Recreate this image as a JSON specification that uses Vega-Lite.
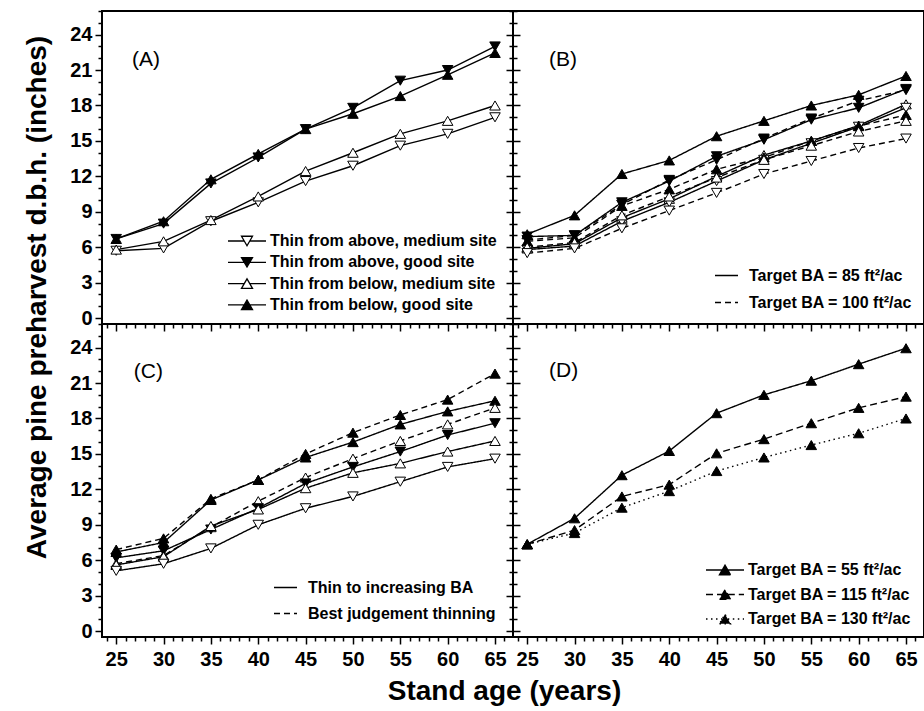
{
  "$schema": "https://vega.github.io/schema/vega-lite/v6.json",
  "background": "white",
  "padding": {"left": 21, "top": 9, "right": 0, "bottom": 0},
  "datasets": {
    "A": [
      {"age":25,"dbh":5.7,"series":"Thin from above, medium site"},{"age":30,"dbh":5.9,"series":"Thin from above, medium site"},{"age":35,"dbh":8.2,"series":"Thin from above, medium site"},{"age":40,"dbh":9.8,"series":"Thin from above, medium site"},{"age":45,"dbh":11.6,"series":"Thin from above, medium site"},{"age":50,"dbh":12.9,"series":"Thin from above, medium site"},{"age":55,"dbh":14.6,"series":"Thin from above, medium site"},{"age":60,"dbh":15.6,"series":"Thin from above, medium site"},{"age":65,"dbh":17.0,"series":"Thin from above, medium site"},
      {"age":25,"dbh":6.7,"series":"Thin from above, good site"},{"age":30,"dbh":8.0,"series":"Thin from above, good site"},{"age":35,"dbh":11.4,"series":"Thin from above, good site"},{"age":40,"dbh":13.6,"series":"Thin from above, good site"},{"age":45,"dbh":16.0,"series":"Thin from above, good site"},{"age":50,"dbh":17.8,"series":"Thin from above, good site"},{"age":55,"dbh":20.1,"series":"Thin from above, good site"},{"age":60,"dbh":21.0,"series":"Thin from above, good site"},{"age":65,"dbh":23.0,"series":"Thin from above, good site"},
      {"age":25,"dbh":5.8,"series":"Thin from below, medium site"},{"age":30,"dbh":6.5,"series":"Thin from below, medium site"},{"age":35,"dbh":8.3,"series":"Thin from below, medium site"},{"age":40,"dbh":10.3,"series":"Thin from below, medium site"},{"age":45,"dbh":12.45,"series":"Thin from below, medium site"},{"age":50,"dbh":14.0,"series":"Thin from below, medium site"},{"age":55,"dbh":15.6,"series":"Thin from below, medium site"},{"age":60,"dbh":16.7,"series":"Thin from below, medium site"},{"age":65,"dbh":18.0,"series":"Thin from below, medium site"},
      {"age":25,"dbh":6.7,"series":"Thin from below, good site"},{"age":30,"dbh":8.2,"series":"Thin from below, good site"},{"age":35,"dbh":11.75,"series":"Thin from below, good site"},{"age":40,"dbh":13.9,"series":"Thin from below, good site"},{"age":45,"dbh":16.0,"series":"Thin from below, good site"},{"age":50,"dbh":17.3,"series":"Thin from below, good site"},{"age":55,"dbh":18.8,"series":"Thin from below, good site"},{"age":60,"dbh":20.6,"series":"Thin from below, good site"},{"age":65,"dbh":22.45,"series":"Thin from below, good site"}
    ],
    "B": [
      {"age":25,"dbh":7.1,"marker":"up-filled","group":"Target BA = 85 ft²/ac"},{"age":30,"dbh":8.7,"marker":"up-filled","group":"Target BA = 85 ft²/ac"},{"age":35,"dbh":12.2,"marker":"up-filled","group":"Target BA = 85 ft²/ac"},{"age":40,"dbh":13.35,"marker":"up-filled","group":"Target BA = 85 ft²/ac"},{"age":45,"dbh":15.4,"marker":"up-filled","group":"Target BA = 85 ft²/ac"},{"age":50,"dbh":16.7,"marker":"up-filled","group":"Target BA = 85 ft²/ac"},{"age":55,"dbh":18.0,"marker":"up-filled","group":"Target BA = 85 ft²/ac"},{"age":60,"dbh":18.9,"marker":"up-filled","group":"Target BA = 85 ft²/ac"},{"age":65,"dbh":20.5,"marker":"up-filled","group":"Target BA = 85 ft²/ac"},
      {"age":25,"dbh":6.9,"marker":"down-filled","group":"Target BA = 85 ft²/ac"},{"age":30,"dbh":7.0,"marker":"down-filled","group":"Target BA = 85 ft²/ac"},{"age":35,"dbh":9.8,"marker":"down-filled","group":"Target BA = 85 ft²/ac"},{"age":40,"dbh":11.6,"marker":"down-filled","group":"Target BA = 85 ft²/ac"},{"age":45,"dbh":13.7,"marker":"down-filled","group":"Target BA = 85 ft²/ac"},{"age":50,"dbh":15.1,"marker":"down-filled","group":"Target BA = 85 ft²/ac"},{"age":55,"dbh":16.8,"marker":"down-filled","group":"Target BA = 85 ft²/ac"},{"age":60,"dbh":17.8,"marker":"down-filled","group":"Target BA = 85 ft²/ac"},{"age":65,"dbh":19.4,"marker":"down-filled","group":"Target BA = 85 ft²/ac"},
      {"age":25,"dbh":5.9,"marker":"up-open","group":"Target BA = 85 ft²/ac"},{"age":30,"dbh":6.3,"marker":"up-open","group":"Target BA = 85 ft²/ac"},{"age":35,"dbh":8.5,"marker":"up-open","group":"Target BA = 85 ft²/ac"},{"age":40,"dbh":10.1,"marker":"up-open","group":"Target BA = 85 ft²/ac"},{"age":45,"dbh":12.0,"marker":"up-open","group":"Target BA = 85 ft²/ac"},{"age":50,"dbh":13.8,"marker":"up-open","group":"Target BA = 85 ft²/ac"},{"age":55,"dbh":15.0,"marker":"up-open","group":"Target BA = 85 ft²/ac"},{"age":60,"dbh":16.3,"marker":"up-open","group":"Target BA = 85 ft²/ac"},{"age":65,"dbh":18.1,"marker":"up-open","group":"Target BA = 85 ft²/ac"},
      {"age":25,"dbh":5.8,"marker":"down-open","group":"Target BA = 85 ft²/ac"},{"age":30,"dbh":6.1,"marker":"down-open","group":"Target BA = 85 ft²/ac"},{"age":35,"dbh":8.2,"marker":"down-open","group":"Target BA = 85 ft²/ac"},{"age":40,"dbh":9.8,"marker":"down-open","group":"Target BA = 85 ft²/ac"},{"age":45,"dbh":11.6,"marker":"down-open","group":"Target BA = 85 ft²/ac"},{"age":50,"dbh":13.4,"marker":"down-open","group":"Target BA = 85 ft²/ac"},{"age":55,"dbh":14.8,"marker":"down-open","group":"Target BA = 85 ft²/ac"},{"age":60,"dbh":16.2,"marker":"down-open","group":"Target BA = 85 ft²/ac"},{"age":65,"dbh":17.8,"marker":"down-open","group":"Target BA = 85 ft²/ac"},
      {"age":25,"dbh":6.6,"marker":"down-filled","group":"Target BA = 100 ft²/ac"},{"age":30,"dbh":7.0,"marker":"down-filled","group":"Target BA = 100 ft²/ac"},{"age":35,"dbh":9.6,"marker":"down-filled","group":"Target BA = 100 ft²/ac"},{"age":40,"dbh":11.7,"marker":"down-filled","group":"Target BA = 100 ft²/ac"},{"age":45,"dbh":13.4,"marker":"down-filled","group":"Target BA = 100 ft²/ac"},{"age":50,"dbh":15.2,"marker":"down-filled","group":"Target BA = 100 ft²/ac"},{"age":55,"dbh":16.9,"marker":"down-filled","group":"Target BA = 100 ft²/ac"},{"age":60,"dbh":18.4,"marker":"down-filled","group":"Target BA = 100 ft²/ac"},{"age":65,"dbh":19.3,"marker":"down-filled","group":"Target BA = 100 ft²/ac"},
      {"age":25,"dbh":6.5,"marker":"up-filled","group":"Target BA = 100 ft²/ac"},{"age":30,"dbh":6.8,"marker":"up-filled","group":"Target BA = 100 ft²/ac"},{"age":35,"dbh":9.5,"marker":"up-filled","group":"Target BA = 100 ft²/ac"},{"age":40,"dbh":10.9,"marker":"up-filled","group":"Target BA = 100 ft²/ac"},{"age":45,"dbh":12.6,"marker":"up-filled","group":"Target BA = 100 ft²/ac"},{"age":50,"dbh":13.6,"marker":"up-filled","group":"Target BA = 100 ft²/ac"},{"age":55,"dbh":15.0,"marker":"up-filled","group":"Target BA = 100 ft²/ac"},{"age":60,"dbh":16.25,"marker":"up-filled","group":"Target BA = 100 ft²/ac"},{"age":65,"dbh":17.2,"marker":"up-filled","group":"Target BA = 100 ft²/ac"},
      {"age":25,"dbh":6.0,"marker":"up-open","group":"Target BA = 100 ft²/ac"},{"age":30,"dbh":6.4,"marker":"up-open","group":"Target BA = 100 ft²/ac"},{"age":35,"dbh":8.7,"marker":"up-open","group":"Target BA = 100 ft²/ac"},{"age":40,"dbh":10.3,"marker":"up-open","group":"Target BA = 100 ft²/ac"},{"age":45,"dbh":11.9,"marker":"up-open","group":"Target BA = 100 ft²/ac"},{"age":50,"dbh":13.4,"marker":"up-open","group":"Target BA = 100 ft²/ac"},{"age":55,"dbh":14.6,"marker":"up-open","group":"Target BA = 100 ft²/ac"},{"age":60,"dbh":15.8,"marker":"up-open","group":"Target BA = 100 ft²/ac"},{"age":65,"dbh":16.7,"marker":"up-open","group":"Target BA = 100 ft²/ac"},
      {"age":25,"dbh":5.5,"marker":"down-open","group":"Target BA = 100 ft²/ac"},{"age":30,"dbh":5.9,"marker":"down-open","group":"Target BA = 100 ft²/ac"},{"age":35,"dbh":7.6,"marker":"down-open","group":"Target BA = 100 ft²/ac"},{"age":40,"dbh":9.1,"marker":"down-open","group":"Target BA = 100 ft²/ac"},{"age":45,"dbh":10.6,"marker":"down-open","group":"Target BA = 100 ft²/ac"},{"age":50,"dbh":12.2,"marker":"down-open","group":"Target BA = 100 ft²/ac"},{"age":55,"dbh":13.3,"marker":"down-open","group":"Target BA = 100 ft²/ac"},{"age":60,"dbh":14.4,"marker":"down-open","group":"Target BA = 100 ft²/ac"},{"age":65,"dbh":15.2,"marker":"down-open","group":"Target BA = 100 ft²/ac"}
    ],
    "C": [
      {"age":25,"dbh":6.9,"marker":"up-filled","group":"Best judgement thinning"},{"age":30,"dbh":7.85,"marker":"up-filled","group":"Best judgement thinning"},{"age":35,"dbh":11.2,"marker":"up-filled","group":"Best judgement thinning"},{"age":40,"dbh":12.8,"marker":"up-filled","group":"Best judgement thinning"},{"age":45,"dbh":15.0,"marker":"up-filled","group":"Best judgement thinning"},{"age":50,"dbh":16.8,"marker":"up-filled","group":"Best judgement thinning"},{"age":55,"dbh":18.3,"marker":"up-filled","group":"Best judgement thinning"},{"age":60,"dbh":19.6,"marker":"up-filled","group":"Best judgement thinning"},{"age":65,"dbh":21.8,"marker":"up-filled","group":"Best judgement thinning"},
      {"age":25,"dbh":6.7,"marker":"up-filled","group":"Thin to increasing BA"},{"age":30,"dbh":7.5,"marker":"up-filled","group":"Thin to increasing BA"},{"age":35,"dbh":11.1,"marker":"up-filled","group":"Thin to increasing BA"},{"age":40,"dbh":12.8,"marker":"up-filled","group":"Thin to increasing BA"},{"age":45,"dbh":14.7,"marker":"up-filled","group":"Thin to increasing BA"},{"age":50,"dbh":16.0,"marker":"up-filled","group":"Thin to increasing BA"},{"age":55,"dbh":17.5,"marker":"up-filled","group":"Thin to increasing BA"},{"age":60,"dbh":18.6,"marker":"up-filled","group":"Thin to increasing BA"},{"age":65,"dbh":19.5,"marker":"up-filled","group":"Thin to increasing BA"},
      {"age":25,"dbh":5.7,"marker":"up-open","group":"Best judgement thinning"},{"age":30,"dbh":6.4,"marker":"up-open","group":"Best judgement thinning"},{"age":35,"dbh":8.8,"marker":"up-open","group":"Best judgement thinning"},{"age":40,"dbh":11.0,"marker":"up-open","group":"Best judgement thinning"},{"age":45,"dbh":13.0,"marker":"up-open","group":"Best judgement thinning"},{"age":50,"dbh":14.6,"marker":"up-open","group":"Best judgement thinning"},{"age":55,"dbh":16.1,"marker":"up-open","group":"Best judgement thinning"},{"age":60,"dbh":17.5,"marker":"up-open","group":"Best judgement thinning"},{"age":65,"dbh":18.9,"marker":"up-open","group":"Best judgement thinning"},
      {"age":25,"dbh":6.2,"marker":"down-filled","group":"Thin to increasing BA"},{"age":30,"dbh":6.8,"marker":"down-filled","group":"Thin to increasing BA"},{"age":35,"dbh":8.6,"marker":"down-filled","group":"Thin to increasing BA"},{"age":40,"dbh":10.4,"marker":"down-filled","group":"Thin to increasing BA"},{"age":45,"dbh":12.5,"marker":"down-filled","group":"Thin to increasing BA"},{"age":50,"dbh":13.9,"marker":"down-filled","group":"Thin to increasing BA"},{"age":55,"dbh":15.2,"marker":"down-filled","group":"Thin to increasing BA"},{"age":60,"dbh":16.6,"marker":"down-filled","group":"Thin to increasing BA"},{"age":65,"dbh":17.6,"marker":"down-filled","group":"Thin to increasing BA"},
      {"age":25,"dbh":5.6,"marker":"up-open","group":"Thin to increasing BA"},{"age":30,"dbh":6.3,"marker":"up-open","group":"Thin to increasing BA"},{"age":35,"dbh":8.9,"marker":"up-open","group":"Thin to increasing BA"},{"age":40,"dbh":10.3,"marker":"up-open","group":"Thin to increasing BA"},{"age":45,"dbh":12.1,"marker":"up-open","group":"Thin to increasing BA"},{"age":50,"dbh":13.4,"marker":"up-open","group":"Thin to increasing BA"},{"age":55,"dbh":14.2,"marker":"up-open","group":"Thin to increasing BA"},{"age":60,"dbh":15.2,"marker":"up-open","group":"Thin to increasing BA"},{"age":65,"dbh":16.1,"marker":"up-open","group":"Thin to increasing BA"},
      {"age":25,"dbh":5.1,"marker":"down-open","group":"Thin to increasing BA"},{"age":30,"dbh":5.7,"marker":"down-open","group":"Thin to increasing BA"},{"age":35,"dbh":7.0,"marker":"down-open","group":"Thin to increasing BA"},{"age":40,"dbh":9.0,"marker":"down-open","group":"Thin to increasing BA"},{"age":45,"dbh":10.4,"marker":"down-open","group":"Thin to increasing BA"},{"age":50,"dbh":11.4,"marker":"down-open","group":"Thin to increasing BA"},{"age":55,"dbh":12.65,"marker":"down-open","group":"Thin to increasing BA"},{"age":60,"dbh":13.9,"marker":"down-open","group":"Thin to increasing BA"},{"age":65,"dbh":14.6,"marker":"down-open","group":"Thin to increasing BA"}
    ],
    "D": [
      {"age":25,"dbh":7.35,"group":"Target BA = 55 ft²/ac"},{"age":30,"dbh":9.55,"group":"Target BA = 55 ft²/ac"},{"age":35,"dbh":13.2,"group":"Target BA = 55 ft²/ac"},{"age":40,"dbh":15.25,"group":"Target BA = 55 ft²/ac"},{"age":45,"dbh":18.45,"group":"Target BA = 55 ft²/ac"},{"age":50,"dbh":20.0,"group":"Target BA = 55 ft²/ac"},{"age":55,"dbh":21.2,"group":"Target BA = 55 ft²/ac"},{"age":60,"dbh":22.6,"group":"Target BA = 55 ft²/ac"},{"age":65,"dbh":23.95,"group":"Target BA = 55 ft²/ac"},
      {"age":25,"dbh":7.35,"group":"Target BA = 115 ft²/ac"},{"age":30,"dbh":8.55,"group":"Target BA = 115 ft²/ac"},{"age":35,"dbh":11.4,"group":"Target BA = 115 ft²/ac"},{"age":40,"dbh":12.4,"group":"Target BA = 115 ft²/ac"},{"age":45,"dbh":15.05,"group":"Target BA = 115 ft²/ac"},{"age":50,"dbh":16.25,"group":"Target BA = 115 ft²/ac"},{"age":55,"dbh":17.6,"group":"Target BA = 115 ft²/ac"},{"age":60,"dbh":18.9,"group":"Target BA = 115 ft²/ac"},{"age":65,"dbh":19.85,"group":"Target BA = 115 ft²/ac"},
      {"age":25,"dbh":7.35,"group":"Target BA = 130 ft²/ac"},{"age":30,"dbh":8.3,"group":"Target BA = 130 ft²/ac"},{"age":35,"dbh":10.45,"group":"Target BA = 130 ft²/ac"},{"age":40,"dbh":11.85,"group":"Target BA = 130 ft²/ac"},{"age":45,"dbh":13.55,"group":"Target BA = 130 ft²/ac"},{"age":50,"dbh":14.7,"group":"Target BA = 130 ft²/ac"},{"age":55,"dbh":15.75,"group":"Target BA = 130 ft²/ac"},{"age":60,"dbh":16.75,"group":"Target BA = 130 ft²/ac"},{"age":65,"dbh":18.0,"group":"Target BA = 130 ft²/ac"}
    ]
  },
  "columns": 2,
  "spacing": 0,
  "bounds": "flush",
  "resolve": {
    "scale": {"shape": "independent", "fill": "independent", "stroke": "independent", "strokeDash": "independent", "x": "independent", "y": "independent"},
    "legend": {"shape": "independent", "fill": "independent", "stroke": "independent", "strokeDash": "independent"}
  },
  "concat": [
    {
      "width": 411, "height": 313,
      "data": {"name": "A"},
      "resolve": {"axis": {"x": "independent", "y": "independent"}, "scale": {"shape": "independent", "fill": "independent", "stroke": "independent"}},
      "layer": [
        {
          "mark": {"type": "line", "color": "black", "strokeWidth": 1.4},
          "encoding": {
            "x": {"field": "age", "type": "quantitative", "scale": {"domain": [23.5, 66.9], "nice": false, "zero": false},
              "axis": {"orient": "bottom", "values": [24,25,26,27,28,29,30,31,32,33,34,35,36,37,38,39,40,41,42,43,44,45,46,47,48,49,50,51,52,53,54,55,56,57,58,59,60,61,62,63,64,65,66], "labels": false, "tickSize": {"condition": {"test": "datum.value % 5 === 0", "value": 7}, "value": 4}, "title": null}},
            "y": {"field": "dbh", "type": "quantitative", "scale": {"domain": [-0.5, 26], "nice": false, "zero": false},
              "axis": {"orient": "left", "values": [0,1,2,3,4,5,6,7,8,9,10,11,12,13,14,15,16,17,18,19,20,21,22,23,24,25,26], "labelExpr": "datum.value % 3 === 0 ? datum.label : ''", "tickSize": {"condition": {"test": "datum.value % 3 === 0", "value": 7}, "value": 4}, "labelPadding": 3,
                "title": "Average pine preharvest d.b.h. (inches)", "titleX": -65, "titleY": 286, "titleBaseline": "middle", "titleAlign": "center", "titleAngle": 270}},
            "detail": {"field": "series", "type": "nominal"}
          }
        },
        {
          "transform": [{"filter": "false"}],
          "mark": {"type": "point", "filled": true, "size": 400, "strokeWidth": 1.3, "opacity": 1},
          "encoding": {
            "x": {"field": "age", "type": "quantitative", "axis": null},
            "y": {"field": "dbh", "type": "quantitative", "axis": null},
            "shape": {"field": "series", "type": "nominal",
              "scale": {"domain": ["Thin from above, medium site", "Thin from above, good site", "Thin from below, medium site", "Thin from below, good site"], "range": ["M-1.9,0L-0.28,0M0.28,0L1.9,0M-0.55,-0.475L0.55,-0.475L0,0.475Z", "M-1.9,0L-0.28,0M0.28,0L1.9,0M-0.55,-0.475L0.55,-0.475L0,0.475Z", "M-1.9,0L-0.28,0M0.28,0L1.9,0M-0.55,0.475L0.55,0.475L0,-0.475Z", "M-1.9,0L-0.28,0M0.28,0L1.9,0M-0.55,0.475L0.55,0.475L0,-0.475Z"]},
              "legend": {"title": null, "orient": "none", "legendX": 134, "legendY": 219, "symbolSize": 400, "labelOffset": 12, "rowPadding": 2.3, "symbolStrokeWidth": 1.3, "symbolOpacity": 1}},
            "fill": {"field": "series", "type": "nominal",
              "scale": {"domain": ["Thin from above, medium site", "Thin from above, good site", "Thin from below, medium site", "Thin from below, good site"], "range": ["white", "black", "white", "black"]}},
            "stroke": {"field": "series", "type": "nominal",
              "scale": {"domain": ["Thin from above, medium site", "Thin from above, good site", "Thin from below, medium site", "Thin from below, good site"], "range": ["black", "black", "black", "black"]}}
          }
        },
        {
          "mark": {"type": "point", "filled": true, "size": 110, "stroke": "black", "strokeWidth": 1, "opacity": 1},
          "encoding": {
            "x": {"field": "age", "type": "quantitative", "axis": null},
            "y": {"field": "dbh", "type": "quantitative",
              "axis": {"orient": "right", "values": [0,1,2,3,4,5,6,7,8,9,10,11,12,13,14,15,16,17,18,19,20,21,22,23,24,25,26], "labels": false, "tickSize": {"condition": {"test": "datum.value % 3 === 0", "value": 7}, "value": 4}, "title": null}},
            "shape": {"field": "series", "type": "nominal", "legend": null,
              "scale": {"domain": ["Thin from above, medium site", "Thin from above, good site", "Thin from below, medium site", "Thin from below, good site"], "range": ["triangle-down", "triangle-down", "triangle-up", "triangle-up"]}},
            "fill": {"field": "series", "type": "nominal", "legend": null,
              "scale": {"domain": ["Thin from above, medium site", "Thin from above, good site", "Thin from below, medium site", "Thin from below, good site"], "range": ["white", "black", "white", "black"]}}
          }
        },
        {
          "data": {"values": [{}]},
          "mark": {"type": "text", "text": "(A)", "fontSize": 21, "font": "Liberation Sans", "align": "left", "baseline": "middle", "color": "black"},
          "encoding": {
            "x": {"datum": 26.67, "type": "quantitative", "axis": null},
            "y": {"datum": 21.85, "type": "quantitative", "axis": null}
          }
        }
      ]
    },
    {
      "width": 411, "height": 313,
      "data": {"name": "B"},
      "resolve": {"axis": {"x": "independent", "y": "independent"}},
      "layer": [
        {
          "mark": {"type": "line", "color": "black", "strokeWidth": 1.4},
          "encoding": {
            "x": {"field": "age", "type": "quantitative", "scale": {"domain": [23.5, 66.9], "nice": false, "zero": false},
              "axis": {"orient": "bottom", "values": [24,25,26,27,28,29,30,31,32,33,34,35,36,37,38,39,40,41,42,43,44,45,46,47,48,49,50,51,52,53,54,55,56,57,58,59,60,61,62,63,64,65,66], "labels": false, "tickSize": {"condition": {"test": "datum.value % 5 === 0", "value": 7}, "value": 4}, "title": null}},
            "y": {"field": "dbh", "type": "quantitative", "scale": {"domain": [-0.5, 26], "nice": false, "zero": false},
              "axis": {"orient": "left", "values": [0,1,2,3,4,5,6,7,8,9,10,11,12,13,14,15,16,17,18,19,20,21,22,23,24,25,26], "labels": false, "tickSize": {"condition": {"test": "datum.value % 3 === 0", "value": 7}, "value": 4}, "title": null}},
            "detail": {"field": "marker", "type": "nominal"},
            "strokeDash": {"field": "group", "type": "nominal",
              "scale": {"domain": ["Target BA = 85 ft²/ac", "Target BA = 100 ft²/ac"], "range": [[1, 0], [6, 4]]},
              "legend": {"title": null, "orient": "none", "legendX": 201, "legendY": 252, "symbolSize": 529, "labelOffset": 10, "rowPadding": 6, "symbolStrokeWidth": 1.4, "symbolStrokeColor": "black"}}
          }
        },
        {
          "mark": {"type": "point", "filled": true, "size": 110, "stroke": "black", "strokeWidth": 1, "opacity": 1},
          "encoding": {
            "x": {"field": "age", "type": "quantitative", "axis": null},
            "y": {"field": "dbh", "type": "quantitative", "axis": null},
            "shape": {"field": "marker", "type": "nominal", "legend": null,
              "scale": {"domain": ["down-open", "down-filled", "up-open", "up-filled"], "range": ["triangle-down", "triangle-down", "triangle-up", "triangle-up"]}},
            "fill": {"field": "marker", "type": "nominal", "legend": null,
              "scale": {"domain": ["down-open", "down-filled", "up-open", "up-filled"], "range": ["white", "black", "white", "black"]}}
          }
        },
        {
          "data": {"values": [{}]},
          "mark": {"type": "text", "text": "(B)", "fontSize": 21, "font": "Liberation Sans", "align": "left", "baseline": "middle", "color": "black"},
          "encoding": {
            "x": {"datum": 27.3, "type": "quantitative", "axis": null},
            "y": {"datum": 21.85, "type": "quantitative", "axis": null}
          }
        }
      ]
    },
    {
      "width": 411, "height": 313,
      "data": {"name": "C"},
      "resolve": {"axis": {"x": "independent", "y": "independent"}},
      "layer": [
        {
          "mark": {"type": "line", "color": "black", "strokeWidth": 1.4},
          "encoding": {
            "x": {"field": "age", "type": "quantitative", "scale": {"domain": [23.5, 66.9], "nice": false, "zero": false},
              "axis": {"orient": "bottom", "values": [24,25,26,27,28,29,30,31,32,33,34,35,36,37,38,39,40,41,42,43,44,45,46,47,48,49,50,51,52,53,54,55,56,57,58,59,60,61,62,63,64,65,66], "labelExpr": "datum.value % 5 === 0 ? datum.label : ''", "tickSize": {"condition": {"test": "datum.value % 5 === 0", "value": 7}, "value": 4}, "labelPadding": 5, "labelOverlap": false, "labelFlush": false,
                "title": "Stand age (years)", "titleX": 402, "titleY": 54, "titleBaseline": "middle", "titleAlign": "center"}},
            "y": {"field": "dbh", "type": "quantitative", "scale": {"domain": [-0.5, 26], "nice": false, "zero": false},
              "axis": {"orient": "left", "values": [0,1,2,3,4,5,6,7,8,9,10,11,12,13,14,15,16,17,18,19,20,21,22,23,24,25,26], "labelExpr": "datum.value % 3 === 0 ? datum.label : ''", "tickSize": {"condition": {"test": "datum.value % 3 === 0", "value": 7}, "value": 4}, "labelPadding": 3, "title": null}},
            "detail": {"field": "marker", "type": "nominal"},
            "strokeDash": {"field": "group", "type": "nominal",
              "scale": {"domain": ["Thin to increasing BA", "Best judgement thinning"], "range": [[1, 0], [6, 4]]},
              "legend": {"title": null, "orient": "none", "legendX": 171, "legendY": 251, "symbolSize": 529, "labelOffset": 10, "rowPadding": 5, "symbolStrokeWidth": 1.4, "symbolStrokeColor": "black"}}
          }
        },
        {
          "mark": {"type": "point", "filled": true, "size": 110, "stroke": "black", "strokeWidth": 1, "opacity": 1},
          "encoding": {
            "x": {"field": "age", "type": "quantitative", "axis": null},
            "y": {"field": "dbh", "type": "quantitative",
              "axis": {"orient": "right", "values": [0,1,2,3,4,5,6,7,8,9,10,11,12,13,14,15,16,17,18,19,20,21,22,23,24,25,26], "labels": false, "tickSize": {"condition": {"test": "datum.value % 3 === 0", "value": 7}, "value": 4}, "title": null}},
            "shape": {"field": "marker", "type": "nominal", "legend": null,
              "scale": {"domain": ["down-open", "down-filled", "up-open", "up-filled"], "range": ["triangle-down", "triangle-down", "triangle-up", "triangle-up"]}},
            "fill": {"field": "marker", "type": "nominal", "legend": null,
              "scale": {"domain": ["down-open", "down-filled", "up-open", "up-filled"], "range": ["white", "black", "white", "black"]}}
          }
        },
        {
          "data": {"values": [{}]},
          "mark": {"type": "text", "text": "(C)", "fontSize": 21, "font": "Liberation Sans", "align": "left", "baseline": "middle", "color": "black"},
          "encoding": {
            "x": {"datum": 26.85, "type": "quantitative", "axis": null},
            "y": {"datum": 21.9, "type": "quantitative", "axis": null}
          }
        }
      ]
    },
    {
      "width": 411, "height": 313,
      "data": {"name": "D"},
      "resolve": {"axis": {"x": "independent", "y": "independent"}},
      "layer": [
        {
          "mark": {"type": "line", "color": "black", "strokeWidth": 1.4},
          "encoding": {
            "x": {"field": "age", "type": "quantitative", "scale": {"domain": [23.5, 66.9], "nice": false, "zero": false},
              "axis": {"orient": "bottom", "values": [24,25,26,27,28,29,30,31,32,33,34,35,36,37,38,39,40,41,42,43,44,45,46,47,48,49,50,51,52,53,54,55,56,57,58,59,60,61,62,63,64,65,66], "labelExpr": "datum.value % 5 === 0 ? datum.label : ''", "tickSize": {"condition": {"test": "datum.value % 5 === 0", "value": 7}, "value": 4}, "labelPadding": 5, "labelOverlap": false, "labelFlush": false, "title": null}},
            "y": {"field": "dbh", "type": "quantitative", "scale": {"domain": [-0.5, 26], "nice": false, "zero": false},
              "axis": {"orient": "left", "values": [0,1,2,3,4,5,6,7,8,9,10,11,12,13,14,15,16,17,18,19,20,21,22,23,24,25,26], "labels": false, "tickSize": {"condition": {"test": "datum.value % 3 === 0", "value": 7}, "value": 4}, "title": null}},
            "strokeDash": {"field": "group", "type": "nominal",
              "scale": {"domain": ["Target BA = 55 ft²/ac", "Target BA = 115 ft²/ac", "Target BA = 130 ft²/ac"], "range": [[1, 0], [7, 4], [1.5, 3.5]]},
              "legend": {"title": null, "orient": "none", "legendX": 201, "legendY": 235, "symbolSize": 400, "labelOffset": 12, "rowPadding": 5.5, "symbolStrokeWidth": 1.4, "symbolStrokeColor": "black", "symbolFillColor": "black",
                "symbolType": "M-1.9,0L-0.28,0M0.28,0L1.9,0M-0.55,0.475L0.55,0.475L0,-0.475Z"}}
          }
        },
        {
          "mark": {"type": "point", "filled": true, "size": 110, "stroke": "black", "strokeWidth": 1, "opacity": 1, "shape": "triangle-up", "fill": "black"},
          "encoding": {
            "x": {"field": "age", "type": "quantitative", "axis": null},
            "y": {"field": "dbh", "type": "quantitative", "axis": null}
          }
        },
        {
          "data": {"values": [{}]},
          "mark": {"type": "text", "text": "(D)", "fontSize": 21, "font": "Liberation Sans", "align": "left", "baseline": "middle", "color": "black"},
          "encoding": {
            "x": {"datum": 27.3, "type": "quantitative", "axis": null},
            "y": {"datum": 22.0, "type": "quantitative", "axis": null}
          }
        }
      ]
    }
  ],
  "config": {
    "view": {"stroke": "black", "strokeWidth": 2},
    "axis": {
      "grid": false, "domain": false,
      "tickColor": "black", "tickWidth": 1.5,
      "labelFont": "Liberation Sans", "labelFontSize": 20, "labelFontWeight": "bold", "labelColor": "black",
      "titleFont": "Liberation Sans", "titleFontSize": 28, "titleFontWeight": "bold", "titleColor": "black"
    },
    "legend": {
      "labelFont": "Liberation Sans", "labelFontSize": 16, "labelFontWeight": "bold", "labelColor": "black",
      "padding": 0, "labelLimit": 400
    }
  }
}
